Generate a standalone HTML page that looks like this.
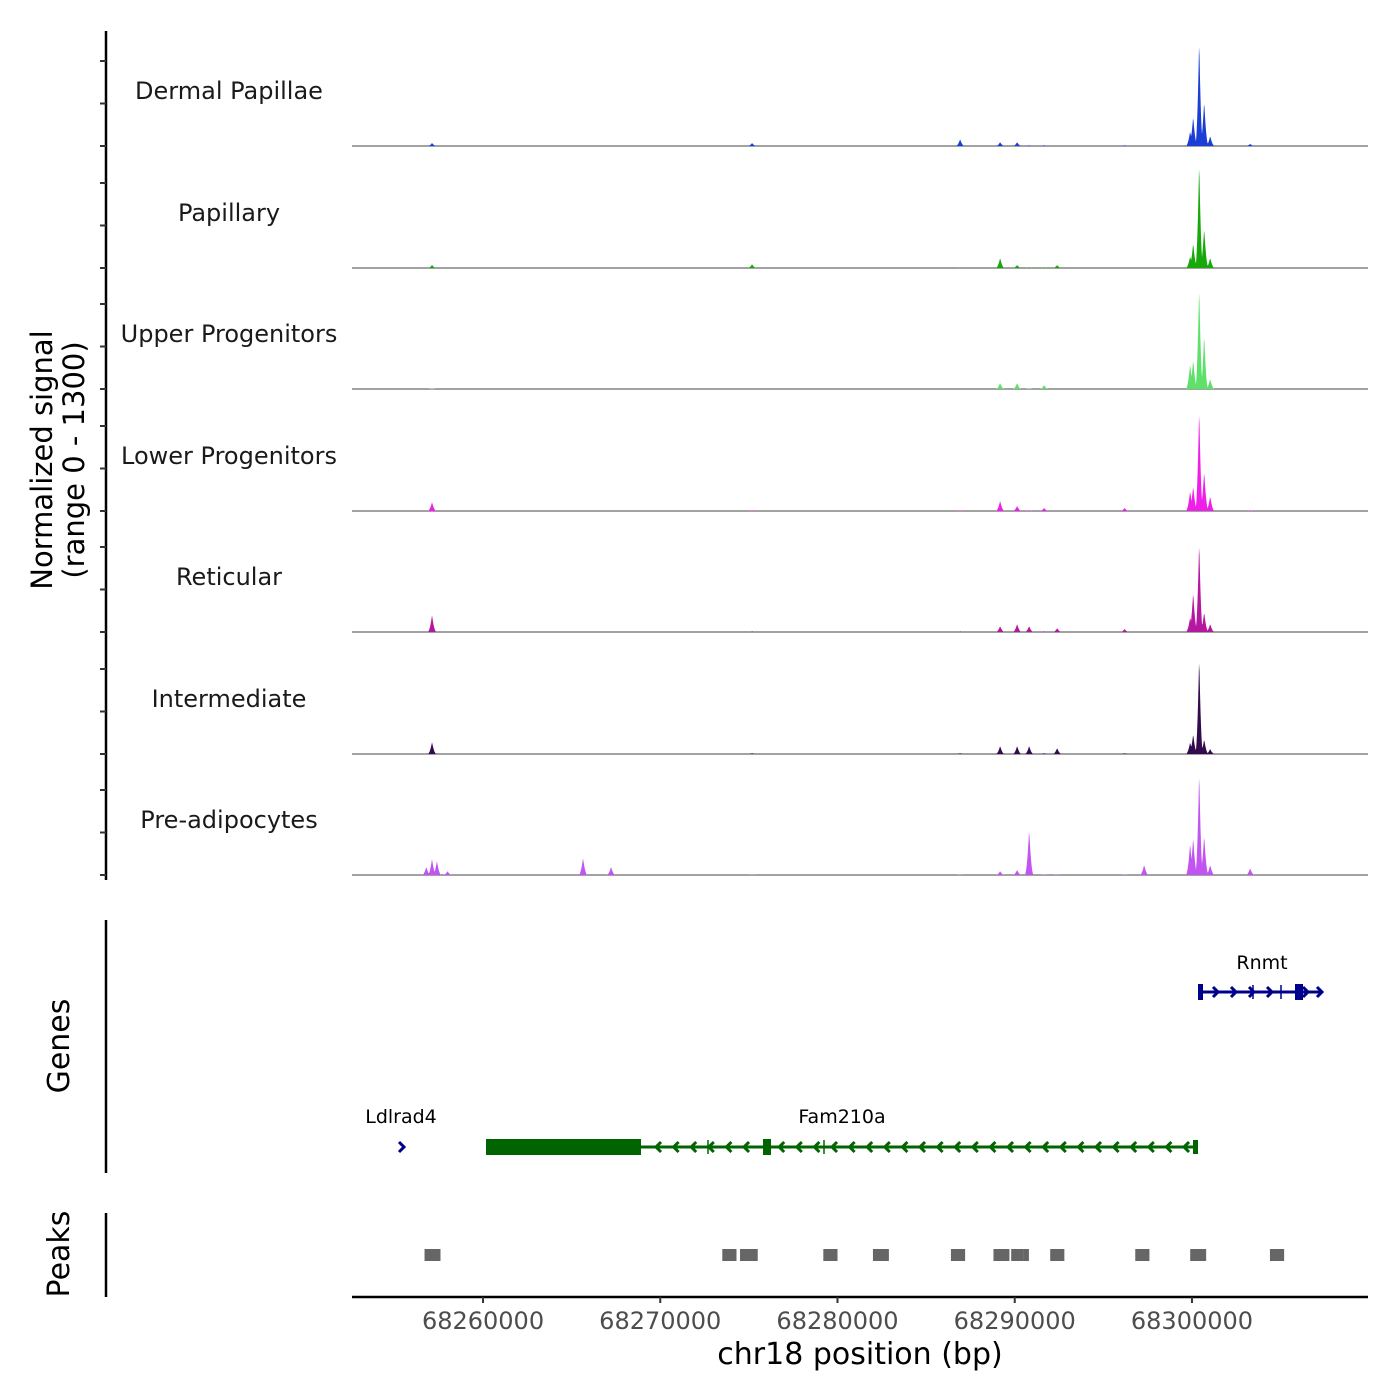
<!DOCTYPE html>
<html><head><meta charset="utf-8"><style>
body{margin:0;background:#fff}
svg{display:block;font-family:"DejaVu Sans","Liberation Sans",sans-serif}
</style></head><body>
<svg id="chart" width="1400" height="1400" viewBox="0 0 1400 1400" xmlns="http://www.w3.org/2000/svg"></svg>
<script>
const trackNames=["Dermal Papillae","Papillary","Upper Progenitors","Lower Progenitors","Reticular","Intermediate","Pre-adipocytes"];
const trackColors=["#1b3fd6","#17a80c","#5ee06a","#ef1ee8","#b5179e","#330a4e","#c254f2"];
const peakPos=[68255400,68256800,68257122,68257400,68258000,68265643,68267223,68275180,68286919,68289176,68290135,68290813,68291659,68292393,68296200,68297302,68299898,68300068,68300406,68300688,68301027,68303284];
const sigDP=[0,0,35,0,0,0,0,35,80,45,45,10,10,0,10,0,175,350,1270,530,120,25];
const sigPap=[0,0,35,0,0,0,0,45,10,120,35,10,10,35,0,0,140,295,1270,470,120,0];
const sigUpper=[0,0,10,0,0,0,0,0,0,70,70,10,45,0,0,0,295,350,1230,650,120,0];
const sigLower=[0,0,105,0,0,0,0,10,10,120,60,10,35,0,35,0,235,295,1220,470,175,10];
const sigRet=[0,0,200,0,0,0,0,10,10,70,95,70,10,45,35,0,175,470,1080,235,95,0];
const sigInter=[0,0,140,0,0,0,0,10,10,95,95,95,10,70,10,0,140,235,1160,175,60,0];
const sigPre=[0,95,190,165,45,200,95,10,10,45,60,540,10,10,10,120,375,445,1240,470,120,80];
const signals=[sigDP,sigPap,sigUpper,sigLower,sigRet,sigInter,sigPre];
const xTicks=[68260000,68270000,68280000,68290000,68300000];
const peakStarts=[68256700,68273500,68274500,68279200,68282000,68286400,68288800,68289800,68290500,68292000,68296800,68299900,68304400];
const peakEnds=[68257600,68274300,68275500,68280000,68282900,68287200,68289700,68290500,68290800,68292800,68297600,68300800,68305200];

const NS="http://www.w3.org/2000/svg";
const svg=document.getElementById("chart");
const X0=352,X1=1368,BP0=68252607,BP1=68309932;
const xs=bp=>X0+(bp-BP0)/(BP1-BP0)*(X1-X0);
const baselines=[146,268,389,511,632,754,875];
const PXPER=85/1000;
function el(t,a,p){const e=document.createElementNS(NS,t);for(const k in a)e.setAttribute(k,a[k]);(p||svg).appendChild(e);return e;}
function txt(s,a){const e=el("text",a);e.textContent=s;return e;}

const ax=el("line",{x1:106,y1:31,x2:106,y2:880,stroke:"#000","stroke-width":2.5});


baselines.forEach((b,i)=>{
  [0,500,1000].forEach(v=>{
    const y=b-v*PXPER;
    const t=el("line",{x1:100,y1:y,x2:106,y2:y,stroke:"#333","stroke-width":2});
    
    
  });
  const lab=txt(trackNames[i],{x:229,y:b-47,"text-anchor":"middle","font-size":24,fill:"#1a1a1a"});
  
  
  const bl=el("line",{x1:X0,y1:b,x2:X1,y2:b,stroke:"#444","stroke-width":1});
  
  
  const vals=signals[i];
  let d="M"+X0+" "+b;
  for(let x=X0;x<=X1;x+=0.5){
    let h=0;
    peakPos.forEach((p,j)=>{const px=xs(p);const w=vals[j]>600?4:4.5;const f=1-Math.abs(x-px)/w;if(f>0)h=Math.max(h,vals[j]*f*f);});
    d+=" L"+x+" "+(b-h*PXPER).toFixed(2);
  }
  d+=" L"+X1+" "+b+"Z";
  const area=el("path",{d:d,fill:trackColors[i]});
  
  
});
const yt=txt("",{transform:"translate(52,460) rotate(-90)","text-anchor":"middle","font-size":29,fill:"#000"});


el("tspan",{x:0,dy:0}, yt).textContent="Normalized signal";
el("tspan",{x:0,dy:32}, yt).textContent="(range 0 - 1300)";

const ga=el("line",{x1:106,y1:920,x2:106,y2:1173,stroke:"#000","stroke-width":2.5});


const gt=txt("Genes",{transform:"translate(69,1046) rotate(-90)","text-anchor":"middle","font-size":30});


const g=el("g",{});
const N="#00008b",G="#006400";
el("line",{x1:1198,y1:992,x2:1322,y2:992,stroke:N,"stroke-width":3},g);
el("rect",{x:1198,y:984,width:5,height:16,fill:N},g);
el("rect",{x:1295,y:984,width:8,height:16,fill:N},g);
[1218,1236,1254,1272,1308,1322].forEach(x=>el("path",{d:`M${x-5} 987 L${x} 992 L${x-5} 997`,stroke:N,"stroke-width":3,fill:"none"},g));
[1253,1281].forEach(x=>el("line",{x1:x,y1:985,x2:x,y2:999,stroke:N,"stroke-width":1.5},g));
txt("Rnmt",{x:1262,y:969,"text-anchor":"middle","font-size":19});
el("path",{d:"M399 1142 L404 1147 L399 1152",stroke:N,"stroke-width":3,fill:"none"},g);
txt("Ldlrad4",{x:401,y:1123,"text-anchor":"middle","font-size":19});
el("line",{x1:486,y1:1147,x2:1197,y2:1147,stroke:G,"stroke-width":3},g);
el("rect",{x:486,y:1139,width:155,height:16,fill:G},g);
el("rect",{x:763,y:1139,width:8,height:16,fill:G},g);
el("rect",{x:1193,y:1140,width:5,height:14,fill:G},g);
[708,824].forEach(x=>el("line",{x1:x,y1:1140,x2:x,y2:1154,stroke:G,"stroke-width":1.5},g));
for(let x=656;x<1190;x+=17.6){if(Math.abs(x-767)<8)continue;el("path",{d:`M${x+5} 1142 L${x} 1147 L${x+5} 1152`,stroke:G,"stroke-width":3,fill:"none"},g);}
txt("Fam210a",{x:842,y:1123,"text-anchor":"middle","font-size":19});

const pa=el("line",{x1:106,y1:1213,x2:106,y2:1297,stroke:"#000","stroke-width":2.5});


const pt=txt("Peaks",{transform:"translate(69,1254) rotate(-90)","text-anchor":"middle","font-size":30});


peakStarts.forEach((s,i)=>{
  const r=el("rect",{x:xs(s),y:1249,width:xs(peakEnds[i])-xs(s),height:12,fill:"#666"});
  
  
});

const xa=el("line",{x1:X0,y1:1297,x2:X1,y2:1297,stroke:"#000","stroke-width":2.5});


xTicks.forEach(t=>{
  const x=xs(t);
  el("line",{x1:x,y1:1297,x2:x,y2:1303,stroke:"#333","stroke-width":2});
  const l=txt(String(t),{x:x,y:1329,"text-anchor":"middle","font-size":24,fill:"#4d4d4d"});
  
  
});
const xt=txt("chr18 position (bp)",{x:860,y:1364,"text-anchor":"middle","font-size":30});


</script>
</body></html>
